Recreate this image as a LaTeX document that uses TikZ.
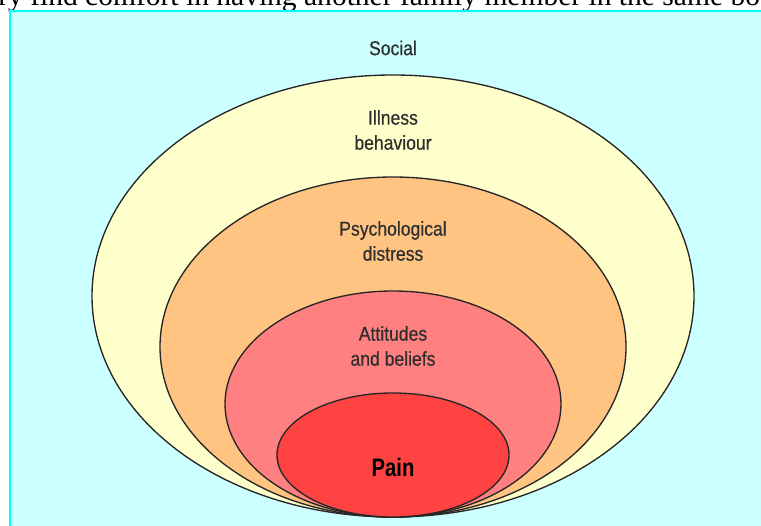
\documentclass[tikz,border=0pt]{standalone}
\usepackage{fontspec}
\setmainfont{Liberation Serif}
\newfontfamily\labelfont[FakeStretch=0.88,FakeBold=0.5]{Liberation Sans}
\newfontfamily\painfont[FakeStretch=0.8]{Liberation Sans}
\usetikzlibrary{shapes.geometric}
\definecolor{frame-cyan}{HTML}{00FFFF}
\definecolor{panel-bg}{HTML}{CCFFFF}
\definecolor{social-yellow}{HTML}{FFFFCC}
\definecolor{distress-orange}{HTML}{FFC382}
\definecolor{belief-pink}{HTML}{FF8080}
\definecolor{pain-red}{HTML}{FF4242}
\definecolor{label-grey}{HTML}{2E2E2E}

\begin{document}
\begin{tikzpicture}[
    ring/.style={draw=black!85, line width=0.95pt, ellipse, inner sep=0pt},
    ringlabel/.style={font=\labelfont\fontsize{14.2}{17.8}\selectfont,
                      text=label-grey, align=center, inner sep=0pt}]
    % Diagram: nested rings, all touching at the bottom (y=0.2).
    % Coordinates: (x, y), page 19.025cm x 13.125cm
    %   panel from x=0.25, top y=12.85
    %   illness ring at (9.825,5.725), 15.05cm x 11.05cm
    %   distress ring at (9.825,4.45), 11.65cm x 8.5cm
    %   beliefs ring at (9.825,3.025), 8.4cm x 5.65cm
    %   pain ring at (9.825,1.75), 5.8cm x 3.1cm
    \useasboundingbox (0,0) rectangle (19.025,13.125);
    \node[anchor=base west, inner sep=0pt, font=\fontsize{21}{24}\selectfont]
          (cuttext) at (-0.05,12.975)
          {ry find comfort in having another family member in the same bo};
    \draw[draw=frame-cyan, line width=1.4pt, fill=panel-bg]
          (0.25,-0.5) rectangle (19.6,12.85);
    \node[ring, fill=social-yellow, minimum width=15.05cm, minimum height=11.05cm]
          (illness) at (9.825,5.725) {};
    \node[ring, fill=distress-orange, minimum width=11.65cm, minimum height=8.5cm]
          (distress) at (9.825,4.45) {};
    \node[ring, fill=belief-pink, minimum width=8.4cm, minimum height=5.65cm]
          (beliefs) at (9.825,3.025) {};
    \node[ring, fill=pain-red, minimum width=5.8cm, minimum height=3.1cm]
          (pain) at (9.825,1.75) {};
    \node[ringlabel] (social-text) at (9.825,11.925) {Social};
    \node[ringlabel] (illness-text) at (9.825,9.875) {Illness\\behaviour};
    \node[ringlabel] (distress-text) at (9.825,7.1) {Psychological\\distress};
    \node[ringlabel] (beliefs-text) at (9.825,4.475) {Attitudes\\and beliefs};
    \node[ringlabel, text=black, font=\painfont\bfseries\fontsize{18}{20}\selectfont]
          (pain-text) at (9.825,1.45) {Pain};
  \end{tikzpicture}
\end{document}
